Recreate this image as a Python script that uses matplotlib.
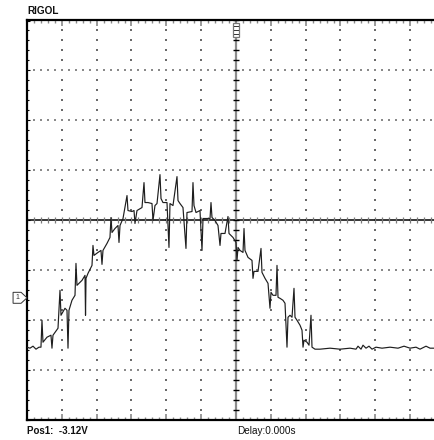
import numpy as np
import matplotlib
matplotlib.use("Agg")
import matplotlib.pyplot as plt
from matplotlib.patches import Polygon, Rectangle

# Screen trace, in graticule divisions (x: time div, y: vertical div)
t_div = [
    -6.000, -5.914, -5.828, -5.742, -5.656, -5.599, -5.570, -5.541, -5.426, -5.312,
    -5.283, -5.254, -5.110, -5.053, -5.024, -4.910, -4.852, -4.823, -4.795, -4.709,
    -4.622, -4.594, -4.565, -4.421, -4.335, -4.320, -4.306, -4.249, -4.134, -4.106,
    -4.077, -3.962, -3.876, -3.847, -3.819, -3.704, -3.618, -3.589, -3.560, -3.474,
    -3.388, -3.359, -3.330, -3.244, -3.129, -3.101, -2.986, -2.928, -2.900, -2.842,
    -2.699, -2.641, -2.613, -2.527, -2.412, -2.383, -2.326, -2.268, -2.182, -2.153,
    -2.096, -1.981, -1.924, -1.895, -1.809, -1.694, -1.665, -1.608, -1.522, -1.436,
    -1.407, -1.263, -1.235, -1.206, -1.148, -1.034, -0.976, -0.947, -0.890, -0.746,
    -0.718, -0.689, -0.603, -0.517, -0.459, -0.431, -0.316, -0.230, -0.201, -0.086,
    0.000, 0.029, 0.057, 0.115, 0.201, 0.230, 0.258, 0.345, 0.459, 0.488,
    0.517, 0.632, 0.718, 0.746, 0.833, 0.919, 0.976, 1.005, 1.062, 1.148,
    1.177, 1.206, 1.263, 1.349, 1.407, 1.464, 1.493, 1.550, 1.608, 1.665,
    1.694, 1.751, 1.838, 1.895, 1.924, 1.952, 2.038, 2.096, 2.153, 2.182,
    2.268, 2.412, 2.699, 2.986, 3.273, 3.445, 3.503, 3.589, 3.646, 3.732,
    3.818, 3.905, 4.019, 4.192, 4.421, 4.651, 4.824, 4.996, 5.168, 5.283,
    5.455, 5.570, 5.713,
]
v_div = [
    -2.55, -2.57, -2.53, -2.59, -2.55, -2.55, -2.01, -2.45, -2.35, -2.31,
    -2.57, -2.31, -2.17, -1.41, -1.91, -1.77, -1.81, -2.57, -1.81, -1.61,
    -1.51, -0.87, -1.31, -1.21, -1.11, -1.91, -1.17, -1.07, -0.91, -0.51,
    -0.71, -0.65, -0.61, -0.89, -0.61, -0.47, -0.35, 0.05, -0.25, -0.17,
    -0.11, -0.45, -0.11, 0.03, 0.49, 0.19, 0.17, 0.19, -0.07, 0.19,
    0.25, 0.75, 0.35, 0.35, 0.33, -0.01, 0.29, 0.33, 0.91, 0.43,
    0.35, 0.35, -0.55, 0.33, 0.29, 0.87, 0.39, 0.33, 0.25, -0.57,
    0.15, 0.17, 0.75, 0.29, 0.15, 0.19, -0.61, 0.03, 0.03, 0.03,
    0.35, 0.05, -0.01, -0.11, -0.51, -0.27, -0.27, 0.07, -0.27, -0.35,
    -0.45, -0.81, -0.55, -0.61, -0.65, -0.17, -0.61, -0.75, -0.81, -1.17,
    -1.03, -1.03, -0.57, -1.05, -1.17, -1.27, -1.77, -1.45, -1.51, -1.51,
    -0.91, -1.55, -1.57, -1.61, -1.67, -2.55, -1.95, -1.91, -1.95, -1.37,
    -1.95, -2.01, -2.11, -2.21, -2.55, -2.41, -2.45, -2.51, -1.91, -2.55,
    -2.59, -2.59, -2.57, -2.59, -2.57, -2.59, -2.53, -2.59, -2.51, -2.57,
    -2.53, -2.59, -2.55, -2.57, -2.55, -2.57, -2.53, -2.57, -2.55, -2.59,
    -2.53, -2.57, -2.57,
]

brand = "RIGOL"
volts_per_div = 2.0
pos1_volts = -3.12
delay_text = "Delay:0.000s"

H_DIVS, V_DIVS = 12, 8

fig = plt.figure(figsize=(4.35, 4.40), dpi=100)
fig.patch.set_facecolor("white")
# graticule is 12 x 8 divisions; its right edge runs past the image
ax = fig.add_axes([27 / 435, 20.5 / 440, 418 / 435, 399 / 440])
ax.set_xlim(-H_DIVS / 2, H_DIVS / 2)
ax.set_ylim(-V_DIVS / 2, V_DIVS / 2)
ax.set_facecolor("white")

for side in ("left", "top", "bottom"):
    ax.spines[side].set_linewidth(1.6)
    ax.spines[side].set_color("black")
ax.spines["right"].set_visible(False)

# border ticks
ax.set_xticks(np.arange(-6, 7, 1))
ax.set_xticks(np.arange(-6, 6.01, 0.2), minor=True)
ax.set_yticks(np.arange(-4, 5, 1))
ax.set_yticks(np.arange(-4, 4.01, 0.2), minor=True)
ax.tick_params(axis="x", which="both", top=True, bottom=True, direction="in",
               labelbottom=False, labeltop=False, color="#8a8a8a")
ax.tick_params(axis="x", which="major", length=4, width=1.2)
ax.tick_params(axis="x", which="minor", length=2.2, width=1.0)
ax.tick_params(axis="y", which="both", left=True, right=False, direction="in",
               labelleft=False, color="black")
ax.tick_params(axis="y", which="major", length=2.5, width=0.8)
ax.tick_params(axis="y", which="minor", length=1.6, width=0.8)

# dotted graticule
dot_y = np.arange(-4, 4.001, 0.2)
for gx in range(-5, 6):
    if gx == 0:
        continue
    ax.scatter(np.full_like(dot_y, gx), dot_y, s=0.9, marker="s",
               color="#6a6a6a", linewidths=0, zorder=1)
dot_x = np.arange(-6, 6.001, 0.2)
for gy in range(-3, 4):
    if gy == 0:
        continue
    ax.scatter(dot_x, np.full_like(dot_x, gy), s=1.2, marker="s",
               color="#8a8a8a", linewidths=0, zorder=1)

# centre cross with scale marks
ax.axhline(0, color="black", lw=1.1, zorder=2)
ax.plot(dot_x, np.zeros_like(dot_x), ls="none", marker="|", ms=4.0,
        mew=0.9, color="#7a7a7a", zorder=2)
ax.axvline(0, color="#8c8c8c", lw=1.6, zorder=2)
ax.plot(np.zeros_like(dot_y), dot_y, ls="none", marker="_", ms=4.0,
        mew=1.0, color="black", zorder=2)

# signal trace
ax.plot(t_div, v_div, color="#1e1e1e", lw=0.85, zorder=4)

# trigger position marker at the top centre
ax.add_patch(Rectangle((-0.09, 3.66), 0.18, 0.28, facecolor="white",
                       edgecolor="#777777", lw=0.9, zorder=5, clip_on=False))
for yy in (3.72, 3.80, 3.88):
    ax.plot([-0.06, 0.06], [yy, yy], color="#333333", lw=0.7, zorder=6,
            clip_on=False)

# channel 1 ground marker on the left edge
g = pos1_volts / volts_per_div
ax.add_patch(Polygon([(-6.40, g + 0.11), (-6.17, g + 0.11), (-6.0, g),
                      (-6.17, g - 0.11), (-6.40, g - 0.11)], closed=True,
                     facecolor="white", edgecolor="#333333", lw=0.7,
                     clip_on=False, zorder=6))
ax.text(-6.27, g, "1", fontsize=5, ha="center", va="center",
        color="#333333", clip_on=False, zorder=7, family="Liberation Sans")

narrow = ["Liberation Sans Narrow", "Liberation Sans", "DejaVu Sans"]
fig.text(27 / 435, 1 - 11 / 440, brand, fontsize=7.2, fontweight="bold",
         family=narrow, ha="left", va="center", color="#111111")
fig.text(27 / 435, 1 - 431 / 440, f"Pos1:  {pos1_volts:.2f}V", fontsize=7.0,
         fontweight="bold", family=narrow, ha="left", va="center",
         color="#111111")
fig.text(237 / 435, 1 - 431 / 440, delay_text, fontsize=7.2,
         family=narrow, ha="left", va="center", color="#111111")

fig.savefig("out.png", dpi=100, facecolor="white")
